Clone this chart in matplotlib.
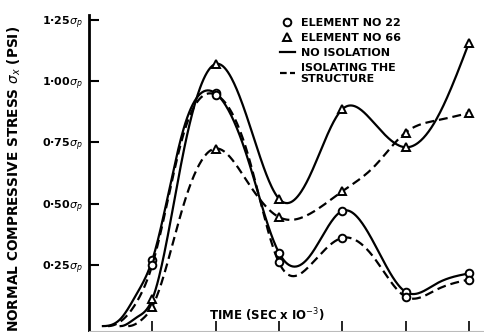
import numpy as np
import matplotlib.pyplot as plt
from matplotlib.lines import Line2D

# time (sec x 10^-3) where the markers sit
times = [1, 2, 3, 4, 5, 6]

# stress at the markers, in units of sigma_p
el22_no_iso = [0.27, 0.95, 0.30, 0.47, 0.14, 0.215]
el22_iso = [0.25, 0.945, 0.26, 0.36, 0.12, 0.19]
el66_no_iso = [0.11, 1.07, 0.52, 0.885, 0.73, 1.155]
el66_iso = [0.08, 0.725, 0.445, 0.55, 0.79, 0.87]

# extra points traced along each curve between the markers
trace_t_22_no_iso = [0.22, 0.5, 0.75, 1.5, 2.5, 3.5, 4.5, 5.5]
trace_v_22_no_iso = [0.0, 0.03, 0.13, 0.81, 0.69, 0.29, 0.34, 0.175]
trace_t_22_iso = [0.3, 0.55, 0.8, 1.5, 2.5, 3.5, 4.5, 5.5]
trace_v_22_iso = [0.0, 0.03, 0.12, 0.79, 0.71, 0.25, 0.28, 0.15]
trace_t_66_no_iso = [0.5, 0.75, 1.5, 2.5, 3.5, 4.5, 5.5]
trace_v_66_no_iso = [0.0, 0.035, 0.72, 0.85, 0.62, 0.83, 0.85]
trace_t_66_iso = [0.62, 0.85, 1.5, 2.5, 3.5, 4.5, 5.5]
trace_v_66_iso = [0.0, 0.03, 0.50, 0.59, 0.46, 0.65, 0.84]

ytick_vals = [0.25, 0.50, 0.75, 1.00, 1.25]
ytick_text = ["0·25", "0·50", "0·75", "1·00", "1·25"]


def smooth(xs, ys, n=400):
    # cubic spline through the points, flat at the start, natural at the end
    order = np.argsort(xs)
    x = np.asarray(xs, float)[order]
    y = np.asarray(ys, float)[order]
    k = len(x)
    h = np.diff(x)
    A = np.zeros((k, k))
    b = np.zeros(k)
    A[0, 0] = 2 * h[0]
    A[0, 1] = h[0]
    b[0] = 6 * ((y[1] - y[0]) / h[0])
    for i in range(1, k - 1):
        A[i, i - 1] = h[i - 1]
        A[i, i] = 2 * (h[i - 1] + h[i])
        A[i, i + 1] = h[i]
        b[i] = 6 * ((y[i + 1] - y[i]) / h[i] - (y[i] - y[i - 1]) / h[i - 1])
    A[k - 1, k - 1] = 1.0
    M = np.linalg.solve(A, b)
    xx = np.linspace(x[0], x[-1], n)
    idx = np.clip(np.searchsorted(x, xx) - 1, 0, k - 2)
    x0, x1 = x[idx], x[idx + 1]
    hh = x1 - x0
    m0, m1 = M[idx], M[idx + 1]
    yy = (m0 * (x1 - xx) ** 3 / (6 * hh) + m1 * (xx - x0) ** 3 / (6 * hh)
          + (y[idx] / hh - m0 * hh / 6) * (x1 - xx)
          + (y[idx + 1] / hh - m1 * hh / 6) * (xx - x0))
    return xx, yy


fig = plt.figure(figsize=(4.84, 3.32), dpi=100)
ax = fig.add_axes([89 / 484, 1 / 332, 1 - 89 / 484, 316 / 332])

series = [
    (trace_t_22_no_iso, trace_v_22_no_iso, el22_no_iso, '-', 'o'),
    (trace_t_22_iso, trace_v_22_iso, el22_iso, '--', 'o'),
    (trace_t_66_no_iso, trace_v_66_no_iso, el66_no_iso, '-', '^'),
    (trace_t_66_iso, trace_v_66_iso, el66_iso, '--', '^'),
]
for tt, tv, vals, ls, mk in series:
    xx, yy = smooth(tt + times, tv + vals)
    line, = ax.plot(xx, yy, color='black', lw=1.6, ls=ls)
    if ls == '--':
        line.set_dashes((4, 2.2))
    ax.plot(times, vals, ls='none', marker=mk, ms=5.5, mfc='white',
            mec='black', mew=1.4)

ax.set_xlim(0, 6.24)
ax.set_ylim(-0.02, 1.27)
ax.set_xticks(times)
ax.set_xticklabels([])
ax.set_yticks(ytick_vals)
ax.set_yticklabels([t + r"$\sigma_p$" for t in ytick_text],
                   fontsize=8, fontweight='bold')
ax.tick_params(axis='y', direction='in', length=7, width=1.5, pad=4)
ax.tick_params(axis='x', direction='in', length=7, width=1.2)
for s in ['top', 'right']:
    ax.spines[s].set_visible(False)
ax.spines['left'].set_linewidth(2)
ax.spines['bottom'].set_color('#bbbbbb')
ax.spines['bottom'].set_linewidth(0.8)

ax.text(2.81, 0.045, r"TIME (SEC x IO$^{-3}$)", ha='center', va='center',
        fontsize=8.5, fontweight='bold')

fig.text(0.03, 1 - 26 / 332, r"NORMAL COMPRESSIVE STRESS $\sigma_x$ (PSI)",
         rotation=90, ha='center', va='top', fontsize=9.8, fontweight='bold')

handles = [
    Line2D([], [], ls='none', marker='o', ms=5.5, mfc='white', mec='black', mew=1.4),
    Line2D([], [], ls='none', marker='^', ms=5.5, mfc='white', mec='black', mew=1.4),
    Line2D([], [], color='black', lw=1.6),
    Line2D([], [], color='black', lw=1.6, dashes=(3, 1.5)),
]
labels = ["ELEMENT NO 22", "ELEMENT NO 66", "NO ISOLATION", "ISOLATING THE\nSTRUCTURE"]
fig.legend(handles, labels, loc='upper left', bbox_to_anchor=(274 / 484, 1 - 12 / 332),
           frameon=False, prop={'weight': 'bold', 'size': 8}, handlelength=1.4,
           handletextpad=0.5, labelspacing=0.45, borderpad=0)

fig.savefig('out.png', dpi=100)
